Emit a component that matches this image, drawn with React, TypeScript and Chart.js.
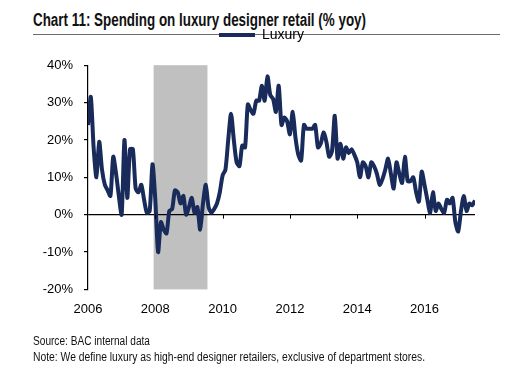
import React, { useEffect, useLayoutEffect, useRef } from "react";
import { Chart, registerables } from "chart.js";

Chart.register(...registerables);

// ---- Data ----
const seriesName = "Luxury";
const startYear = 2006; // first observation: Jan 2006, monthly
const luxuryYoY: number[] = [
  // 2006
  24, 31.5, 18, 10, 19.5, 12, 8, 6.5, 5, 15.5, 11, 5,
  // 2007
  0, 20, 4.5, 17.5, 17.5, 7, 6, 8, 4, 0.5, 1, 13.5,
  // 2008
  4, -10, -2, -4, -5, 1, 1.5, 6.5, 6, 3, 5, 0,
  // 2009
  2, 4.5, 0.5, 2, -4, 3, 8, 2, 0.5, 1.5, 3, 6,
  // 2010
  10.5, 12, 20, 27, 20, 14, 13, 18.5, 18, 29.5, 28, 27,
  // 2011
  30.5, 30.5, 34.5, 30.5, 37, 32, 31, 27.5, 34.5, 24, 26, 25,
  // 2012
  21.5, 27.5, 20.5, 16, 14.5, 24, 23, 23, 23, 24, 18, 19,
  // 2013
  22, 19.5, 15.5, 17, 26.5, 15, 19, 15, 18, 16.5, 17.5, 16,
  // 2014
  14, 10, 14, 13, 10, 14, 13, 11, 8, 9.5, 12, 15,
  // 2015
  11, 7, 14, 11, 8.5, 15.5, 9, 9, 10, 6, 3.5, 11.5,
  // 2016
  8, 4, 0.5, 6, 1, 3, 1.5, 0.5, 4, 3, 4.5, -2,
  // 2017
  -4.5, 1, 5, 1, 3, 2.5, 3.8,
];
const recessionStart = 2007.95;
const recessionEnd = 2009.55;
const xTickYears: number[] = [2006, 2008, 2010, 2012, 2014, 2016];
const xMin = 2006;
const xMax = 2017.5;
const yTicks: number[] = [-20, -10, 0, 10, 20, 30, 40];

const titleText = "Chart 11: Spending on luxury designer retail (% yoy)";
const sourceText = "Source: BAC internal data";
const noteText =
  "Note: We define luxury as high-end designer retailers, exclusive of department stores.";

const LINE_COLOR = "#182b5a";
const AXIS_FONT = "'Liberation Sans', Arial, sans-serif";
const LEGEND_SHIFT = 24;

const recessionPlugin = {
  id: "recession",
  beforeDraw(chart: any) {
    const { ctx, chartArea, scales } = chart;
    const x0 = scales.x.getPixelForValue(recessionStart);
    const x1 = scales.x.getPixelForValue(recessionEnd);
    ctx.save();
    ctx.fillStyle = "#c0c0c0";
    ctx.fillRect(x0, chartArea.top, x1 - x0, chartArea.bottom - chartArea.top);
    ctx.restore();
  },
};

const zeroTicksPlugin = {
  id: "zeroTicks",
  afterDatasetsDraw(chart: any) {
    const { ctx, scales } = chart;
    const y0 = scales.y.getPixelForValue(0);
    ctx.save();
    ctx.strokeStyle = "#000";
    ctx.lineWidth = 1;
    xTickYears.slice(1).forEach((v) => {
      const x = Math.round(scales.x.getPixelForValue(v)) + 0.5;
      ctx.beginPath();
      ctx.moveTo(x, y0);
      ctx.lineTo(x, y0 + 4);
      ctx.stroke();
    });
    ctx.restore();
  },
};

const legendShiftPlugin = {
  id: "legendShift",
  afterLayout(chart: any) {
    const lg = chart.legend;
    if (lg) {
      lg.left += LEGEND_SHIFT;
      lg.right += LEGEND_SHIFT;
    }
  },
};

function fitWidth(el: HTMLElement | null, target: number) {
  if (!el) return;
  el.style.transform = "none";
  const w = el.getBoundingClientRect().width;
  if (w > 0) {
    el.style.transformOrigin = "0 50%";
    el.style.transform = `scaleX(${target / w})`;
  }
}

export default function App() {
  const canvasRef = useRef<HTMLCanvasElement | null>(null);
  const titleRef = useRef<HTMLSpanElement | null>(null);
  const sourceRef = useRef<HTMLSpanElement | null>(null);
  const noteRef = useRef<HTMLSpanElement | null>(null);

  useLayoutEffect(() => {
    fitWidth(titleRef.current, 333);
    fitWidth(sourceRef.current, 117);
    fitWidth(noteRef.current, 392);
  }, []);

  useEffect(() => {
    if (!canvasRef.current) return;
    const points = luxuryYoY.map((v, i) => ({ x: startYear + i / 12, y: v }));
    const chart = new Chart(canvasRef.current, {
      type: "line",
      data: {
        datasets: [
          {
            label: seriesName,
            data: points,
            borderColor: LINE_COLOR,
            backgroundColor: LINE_COLOR,
            borderWidth: 4,
            pointRadius: 0,
            tension: 0.25,
            fill: false,
          },
        ],
      },
      options: {
        animation: false,
        responsive: false,
        maintainAspectRatio: false,
        layout: { padding: { top: 4, right: 43, bottom: 49, left: 0 } },
        plugins: {
          legend: {
            display: true,
            position: "top",
            align: "center",
            weight: 1000,
            labels: {
              usePointStyle: true,
              pointStyle: "line",
              pointStyleWidth: 36,
              padding: 24,
              color: "#000",
              font: { family: AXIS_FONT, size: 14 },
            },
          },
          // empty spacer between legend and plot area
          subtitle: {
            display: true,
            text: "",
            position: "top",
            weight: 500,
            font: { size: 1 },
            padding: { top: 0, bottom: 12 },
          },
          tooltip: { enabled: false },
        },
        scales: {
          x: {
            type: "linear",
            min: xMin,
            max: xMax,
            grid: { display: false, drawTicks: false },
            border: { display: false },
            afterBuildTicks: (scale: any) => {
              scale.ticks = xTickYears.map((v) => ({ value: v }));
            },
            ticks: {
              padding: 12,
              color: "#000",
              font: { family: AXIS_FONT, size: 13 },
              maxRotation: 0,
              autoSkip: false,
              callback: (v: any) => String(v),
            },
          },
          y: {
            min: yTicks[0],
            max: yTicks[yTicks.length - 1],
            afterFit: (scale: any) => {
              scale.width = 88;
            },
            afterBuildTicks: (scale: any) => {
              scale.ticks = yTicks.map((v) => ({ value: v }));
            },
            grid: {
              drawOnChartArea: true,
              color: (c: any) => (c.tick && c.tick.value === 0 ? "#000" : "rgba(0,0,0,0)"),
              lineWidth: 1.2,
              drawTicks: true,
              tickLength: 4,
              tickColor: "#000",
            },
            border: { display: true, color: "#000", width: 1.2 },
            ticks: {
              padding: 11,
              color: "#000",
              font: { family: AXIS_FONT, size: 13 },
              callback: (v: any) => v + "%",
            },
          },
        },
      },
      plugins: [recessionPlugin, zeroTicksPlugin, legendShiftPlugin],
    });
    return () => chart.destroy();
  }, []);

  return (
    <div
      style={{
        position: "absolute",
        left: 0,
        top: 0,
        width: 518,
        height: 378,
        background: "#fff",
        overflow: "hidden",
      }}
    >
      <div
        style={{
          position: "absolute",
          left: 33,
          top: 9,
          fontFamily: AXIS_FONT,
          fontWeight: "bold",
          fontSize: 18,
          lineHeight: "22px",
          color: "#111",
          whiteSpace: "nowrap",
        }}
      >
        <span ref={titleRef} style={{ display: "inline-block" }}>
          {titleText}
        </span>
      </div>
      <div
        style={{
          position: "absolute",
          left: 33,
          top: 34,
          width: 467,
          height: 0,
          borderTop: "1.5px solid #6b6b6b",
        }}
      />
      <canvas
        ref={canvasRef}
        width={518}
        height={378}
        style={{ position: "absolute", left: 0, top: 0, width: 518, height: 378 }}
      />
      <div
        style={{
          position: "absolute",
          left: 33,
          top: 333,
          fontFamily: AXIS_FONT,
          fontSize: 12,
          lineHeight: "16px",
          color: "#111",
          whiteSpace: "nowrap",
        }}
      >
        <div>
          <span ref={sourceRef} style={{ display: "inline-block" }}>
            {sourceText}
          </span>
        </div>
        <div>
          <span ref={noteRef} style={{ display: "inline-block" }}>
            {noteText}
          </span>
        </div>
      </div>
    </div>
  );
}
